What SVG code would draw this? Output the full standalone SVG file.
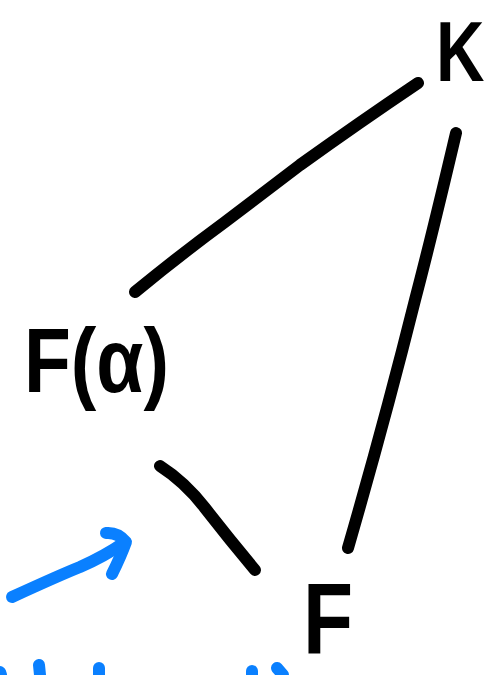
<svg xmlns="http://www.w3.org/2000/svg" width="491" height="675" viewBox="0 0 491 675">
<style>
.lbl{font-family:"Liberation Sans","DejaVu Sans",sans-serif;font-weight:bold;fill:#000}
.edge{fill:none;stroke:#000;stroke-width:12;stroke-linecap:round;stroke-linejoin:round}
.blue{fill:none;stroke:#0A80FF;stroke-width:12;stroke-linecap:round;stroke-linejoin:round}
</style>
<rect width="491" height="675" fill="#fff"/>
<g id="connectors">
<path class="edge" d="M135,292 Q180,255 225,222 Q270,188 300,165 Q360,122 418,83"/>
<path class="edge" d="M456,133 Q432,235 415,300 Q385,420 348,548"/>
<path class="edge" d="M160,466 Q185,482 205,508 Q230,540 255,570"/>
</g>
<g id="arrow">
<path class="blue" d="M12,597 Q60,575 80,567 Q105,556 125,542"/>
<path class="blue" d="M106,533 Q118,532 126,542 Q121,556 112,574"/>
</g>
<g id="bottom-marks">
<path class="blue" d="M0,672 L1,675"/>
<path class="blue" d="M39,665 L40,675"/>
<path class="blue" d="M99,668 L99,675"/>
<path class="blue" d="M252,671 L252,675"/>
<path class="blue" d="M277,668 L283,675"/>
</g>
<g id="node-K">
<text class="lbl" x="0" y="0" font-size="86" transform="translate(436,81) scale(0.78,1)">K</text>
</g>
<g id="node-Falpha">
<text class="lbl" x="24" y="392" font-size="90" textLength="145" lengthAdjust="spacingAndGlyphs">F(α)</text>
</g>
<g id="node-F">
<text class="lbl" x="0" y="0" font-size="100" transform="translate(303,653) scale(0.82,1)">F</text>
</g>
</svg>
